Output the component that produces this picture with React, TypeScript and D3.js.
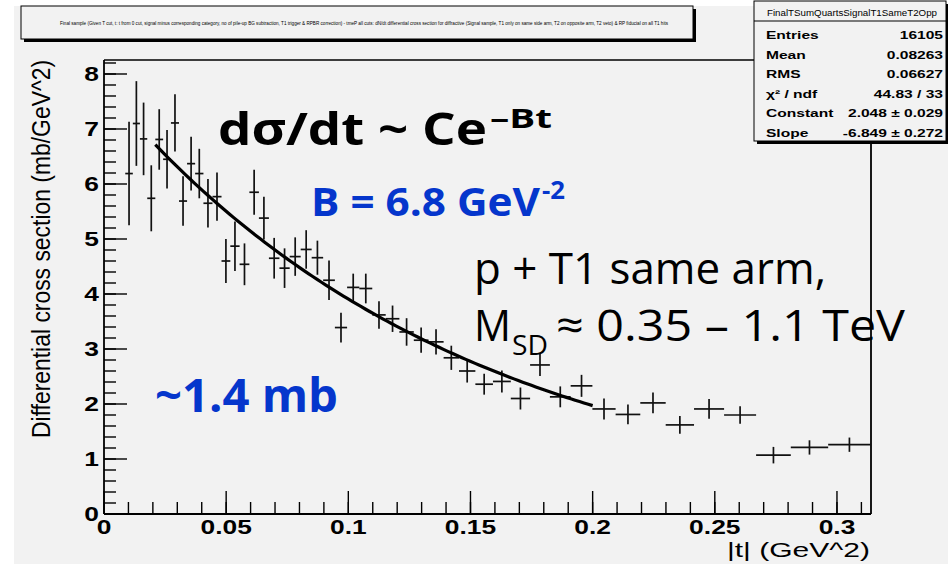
import React from "react";
import * as d3 from "d3";

// ---- data ----
const binEdges = [
  0.0087, 0.0118, 0.0147, 0.0177, 0.021, 0.0242, 0.0274, 0.0307, 0.034, 0.0373,
  0.0407, 0.0444, 0.0481, 0.0517, 0.0555, 0.0595, 0.0634, 0.0675, 0.0718, 0.076,
  0.0805, 0.085, 0.0897, 0.0945, 0.0995, 0.1045, 0.1098, 0.1153, 0.1209, 0.1268,
  0.1328, 0.139, 0.1453, 0.152, 0.1592, 0.1665, 0.1744, 0.1825, 0.191, 0.1999,
  0.2094, 0.2195, 0.2299, 0.2415, 0.2538, 0.2669, 0.2811, 0.2964, 0.3138,
];
const binValues = [
  6.19, 7.1, 6.82, 5.74, 6.81, 6.45, 7.11, 5.69, 6.37, 6.19,
  5.65, 5.77, 4.6, 4.87, 4.54, 5.85, 5.38, 4.65, 4.47, 4.68,
  4.81, 4.66, 4.25, 3.39, 4.12, 4.1, 3.62, 3.55, 3.31, 3.16,
  3.13, 2.84, 2.6, 2.36, 2.41, 2.1, 2.71, 2.13, 2.33, 1.91,
  1.81, 2.02, 1.62, 1.91, 1.8, 1.07, 1.21, 1.26,
];
const binErrors = [
  0.94, 0.77, 0.66, 0.6, 0.55, 0.53, 0.52, 0.45, 0.49, 0.45,
  0.44, 0.44, 0.4, 0.45, 0.38, 0.41, 0.39, 0.37, 0.36, 0.35,
  0.35, 0.31, 0.36, 0.27, 0.25, 0.27, 0.25, 0.24, 0.25, 0.23,
  0.23, 0.22, 0.21, 0.19, 0.2, 0.2, 0.2, 0.19, 0.2, 0.19,
  0.18, 0.19, 0.16, 0.18, 0.16, 0.15, 0.13, 0.13,
];
const xTicks = [0, 0.05, 0.1, 0.15, 0.2, 0.25, 0.3];
const xTickLabels = ["0", "0.05", "0.1", "0.15", "0.2", "0.25", "0.3"];
const yTicks = [0, 1, 2, 3, 4, 5, 6, 7, 8];
const fitConstant = 2.048;
const fitSlope = -6.849;
const fitRange = [0.021, 0.2];
const statsLabels = ["Entries", "Mean", "RMS", "χ² / ndf", "Constant", "Slope"];
const statsValues = ["16105", "0.08263", "0.06627", "44.83 / 33", "2.048 ± 0.029", "-6.849 ± 0.272"];

const W = 948;
const H = 564;
const L = 104, R = 871, T = 60, B = 514;
const blue = "#0536cc";
const SX = 1.32; // horizontal stretch of the ROOT text

export default function App() {
  const x = d3.scaleLinear().domain([0, 0.31393]).range([L, R]);
  const y = d3.scaleLinear().domain([0, 8.2545]).range([B, T]);

  const xMinor = d3.range(0, 0.3139, 0.01);
  const yMinor = d3.range(0, 8.25, 0.2);

  const fitPts = d3.range(0, 101).map((i) => {
    const t = fitRange[0] + ((fitRange[1] - fitRange[0]) * i) / 100;
    return [t, Math.exp(fitConstant + fitSlope * t)] as [number, number];
  });
  const fitLine = d3
    .line<[number, number]>()
    .x((d) => x(d[0]))
    .y((d) => y(d[1]));

  const font = "'Liberation Sans', Arial, Helvetica, sans-serif";
  const annFont = "'Open Sans', 'Noto Sans', sans-serif";

  return (
    <svg
      width={W}
      height={H}
      style={{ position: "absolute", left: 0, top: 0, display: "block" }}
    >
      <rect x={0} y={0} width={W} height={H} fill="#ffffff" />
      <rect x={14} y={6} width={W - 14} height={H - 6} fill="#f2f2f2" />

      {/* title box */}
      <rect x={24} y={9} width={672} height={33} fill="#000" />
      <rect x={21} y={6} width={672} height={33} fill="#f2f2f2" stroke="#000" strokeWidth={1} />
      <text
        x={60}
        y={25}
        fontSize={4.6}
        fontFamily={font}
        textLength={608}
        lengthAdjust="spacingAndGlyphs"
        fill="#000"
      >
        Final sample (Given T cut, t: t from 0 cut, signal minus corresponding category, no of pile-up BG subtraction, T1 trigger &amp; RPBR correction) - tmeP all cuts: dN/dt differential cross section for diffractive (Signal sample, T1 only on same side arm, T2 on opposite arm, T2 veto) &amp; RP fiducial on all T1 hits
      </text>

      {/* frame */}
      <line x1={L} y1={T} x2={R} y2={T} stroke="#000" strokeWidth={1.3} />
      <line x1={R} y1={T} x2={R} y2={B} stroke="#000" strokeWidth={1.8} />
      <line x1={L} y1={T} x2={L} y2={B} stroke="#000" strokeWidth={1.8} />
      <line x1={L} y1={B} x2={R} y2={B} stroke="#000" strokeWidth={1.8} />

      {/* y ticks */}
      {yMinor.map((v, i) => (
        <line key={"ym" + i} x1={L} x2={L + 12} y1={y(v)} y2={y(v)} stroke="#000" strokeWidth={1.4} />
      ))}
      {yTicks.map((v) => (
        <g key={"y" + v}>
          <line x1={L} x2={L + 23} y1={y(v)} y2={y(v)} stroke="#000" strokeWidth={1.4} />
          <text
            transform={`translate(${L - 5},${y(v) + 7}) scale(${SX},1)`}
            fontSize={20}
            fontWeight="bold"
            fontFamily={font}
            textAnchor="end"
            fill="#000"
          >
            {v}
          </text>
        </g>
      ))}

      {/* x ticks */}
      {xMinor.map((v, i) => (
        <line key={"xm" + i} x1={x(v)} x2={x(v)} y1={B} y2={B - 12} stroke="#000" strokeWidth={1.4} />
      ))}
      {xTicks.map((v, i) => (
        <g key={"x" + v}>
          <line x1={x(v)} x2={x(v)} y1={B} y2={B - 23} stroke="#000" strokeWidth={1.4} />
          <text
            transform={`translate(${x(v)},${B + 20}) scale(${SX},1)`}
            fontSize={20}
            fontWeight="bold"
            fontFamily={font}
            textAnchor="middle"
            fill="#000"
          >
            {xTickLabels[i]}
          </text>
        </g>
      ))}

      {/* axis titles */}
      <text
        x={727}
        y={557}
        fontSize={20}
        fontFamily={font}
        textLength={143}
        lengthAdjust="spacingAndGlyphs"
        fill="#000"
      >
        |t| (GeV^2)
      </text>
      <text
        transform={`translate(50,60) scale(1.2,1) rotate(-90)`}
        x={-378}
        y={0}
        fontSize={21}
        fontFamily={font}
        textLength={378}
        lengthAdjust="spacingAndGlyphs"
        fill="#000"
      >
        Differential cross section (mb/GeV^2)
      </text>

      {/* histogram points */}
      {binValues.map((v, i) => {
        const x0 = x(binEdges[i]);
        const x1 = x(binEdges[i + 1]);
        const xc = (x0 + x1) / 2;
        return (
          <g key={"b" + i} stroke="#111" strokeWidth={1.7}>
            <line x1={x0} x2={x1} y1={y(v)} y2={y(v)} />
            <line x1={xc} x2={xc} y1={y(v - binErrors[i])} y2={y(v + binErrors[i])} />
          </g>
        );
      })}

      {/* fit */}
      <path d={fitLine(fitPts) || ""} fill="none" stroke="#000" strokeWidth={3.2} />

      {/* stats box */}
      <rect x={757} y={4} width={191} height={140} fill="#000" />
      <rect x={754} y={1} width={192} height={140} fill="#f2f2f2" stroke="#000" strokeWidth={1} />
      <line x1={754} x2={946} y1={21} y2={21} stroke="#000" strokeWidth={1} />
      <text
        x={767}
        y={16}
        fontSize={8.5}
        fontFamily={font}
        textLength={170}
        lengthAdjust="spacingAndGlyphs"
        fill="#000"
      >
        FinalTSumQuartsSignalT1SameT2Opp
      </text>
      {statsLabels.map((s, i) => (
        <g key={"s" + i}>
          <text
            transform={`translate(766,${39 + i * 19.6}) scale(${SX},1)`}
            fontSize={11.8}
            fontWeight="bold"
            fontFamily={font}
            fill="#000"
          >
            {s}
          </text>
          <text
            transform={`translate(943,${39 + i * 19.6}) scale(${SX},1)`}
            fontSize={11.8}
            fontWeight="bold"
            fontFamily={font}
            textAnchor="end"
            fill="#000"
          >
            {statsValues[i]}
          </text>
        </g>
      ))}

      {/* annotations */}
      <text
        x={218}
        y={145}
        fontSize={45}
        fontWeight="bold"
        fontFamily={annFont}
        textLength={269}
        lengthAdjust="spacingAndGlyphs"
        fill="#000"
      >
        dσ/dt ~ Ce
      </text>
      <text x={490} y={128} fontSize={27} fontWeight="bold" fontFamily={annFont} textLength={62} lengthAdjust="spacingAndGlyphs" fill="#000">
        –Bt
      </text>
      <text
        x={311}
        y={216}
        fontSize={39}
        fontWeight="bold"
        fontFamily={annFont}
        textLength={229}
        lengthAdjust="spacingAndGlyphs"
        fill={blue}
      >
        B = 6.8 GeV
      </text>
      <text x={542} y={199} fontSize={25} fontWeight="bold" fontFamily={annFont} textLength={23} lengthAdjust="spacingAndGlyphs" fill={blue}>
        -2
      </text>
      <text
        x={474}
        y={284}
        fontSize={44}
        fontFamily={annFont}
        textLength={352}
        lengthAdjust="spacingAndGlyphs"
        fill="#000"
      >
        p + T1 same arm,
      </text>
      <text x={474} y={341} fontSize={44} fontFamily={annFont} textLength={37} lengthAdjust="spacingAndGlyphs" fill="#000">
        M
      </text>
      <text x={512} y={355} fontSize={28} fontFamily={annFont} textLength={36} lengthAdjust="spacingAndGlyphs" fill="#000">
        SD
      </text>
      <text
        x={556}
        y={341}
        fontSize={44}
        fontFamily={annFont}
        textLength={349}
        lengthAdjust="spacingAndGlyphs"
        fill="#000"
      >
        ≈ 0.35 – 1.1 TeV
      </text>
      <text
        x={155}
        y={412}
        fontSize={47}
        fontWeight="bold"
        fontFamily={annFont}
        textLength={183}
        lengthAdjust="spacingAndGlyphs"
        fill={blue}
      >
        ~1.4 mb
      </text>
    </svg>
  );
}
